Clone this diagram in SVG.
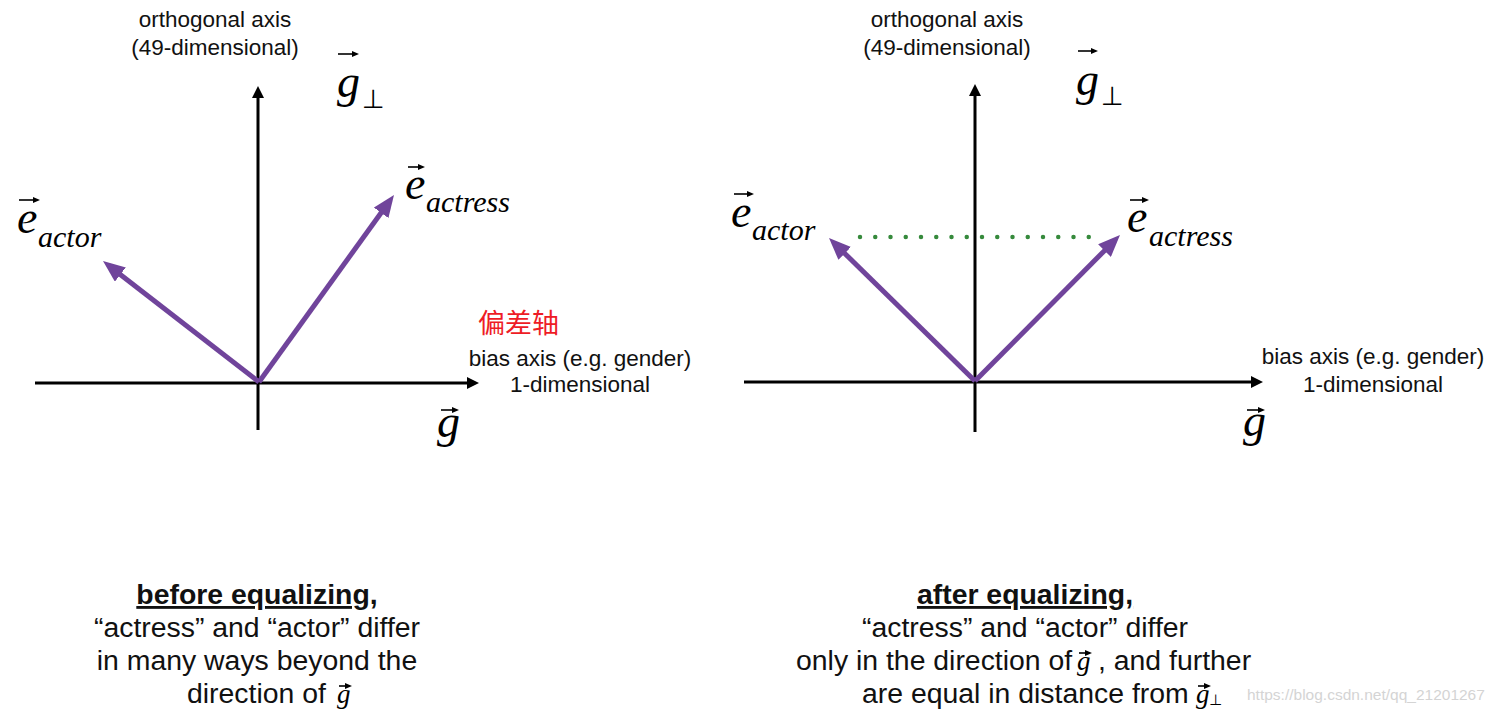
<svg xmlns="http://www.w3.org/2000/svg" width="1499" height="723" viewBox="0 0 1499 723">
<style>
.sans{font-family:"Liberation Sans",Arial,sans-serif;fill:#111}
.lbl{font-size:22.5px}
.cap{font-size:28.4px}
.mi{font-family:"Liberation Serif","Times New Roman",serif;font-style:italic;fill:#000}
.big{font-size:46px}
.sub{font-size:30px}
.perp{font-family:"DejaVu Sans",sans-serif;fill:#000}
.axis{stroke:#000;stroke-width:3;fill:none}
.vec{stroke:#70449b;stroke-width:5;fill:none}
.va{stroke:#000;stroke-width:1.6;fill:none}
</style>
<defs>
<marker id="ah" viewBox="0 0 12 12" refX="0" refY="6" markerWidth="12" markerHeight="12" markerUnits="userSpaceOnUse" orient="auto"><path d="M0,0 L12,6 L0,12 z" fill="#000"/></marker>
<marker id="ph" viewBox="0 0 22 18" refX="1" refY="9" markerWidth="22" markerHeight="18" markerUnits="userSpaceOnUse" orient="auto"><path d="M0,0 L22,9 L0,18 z" fill="#70449b"/></marker>
<marker id="sh" viewBox="0 0 7 6" refX="1" refY="3" markerWidth="7" markerHeight="6" markerUnits="userSpaceOnUse" orient="auto"><path d="M0,0 L7,3 L0,6 z" fill="#000"/></marker>
</defs>
<rect width="1499" height="723" fill="#fff"/>

<g id="connectors">
<line class="axis" x1="35" y1="383" x2="467" y2="383" marker-end="url(#ah)"/>
<line class="axis" x1="258" y1="430" x2="258" y2="98" marker-end="url(#ah)"/>
<line class="vec" x1="259" y1="382" x2="119.6" y2="273.9" marker-end="url(#ph)"/>
<line class="vec" x1="259" y1="382" x2="381.7" y2="212" marker-end="url(#ph)"/>
<line class="axis" x1="744" y1="382" x2="1251" y2="382" marker-end="url(#ah)"/>
<line class="axis" x1="975" y1="432" x2="975" y2="96" marker-end="url(#ah)"/>
<line class="vec" x1="975" y1="381" x2="844" y2="252.7" marker-end="url(#ph)"/>
<line class="vec" x1="975" y1="381" x2="1105.2" y2="249.9" marker-end="url(#ph)"/>
<line x1="860" y1="237" x2="1104" y2="237" stroke="#368a3c" stroke-width="4.5" stroke-linecap="round" stroke-dasharray="0 15.25"/>
</g>

<g id="left-orth-label">
<text class="sans lbl" x="215" y="27" text-anchor="middle">orthogonal axis</text>
<text class="sans lbl" x="215" y="55" text-anchor="middle">(49-dimensional)</text>
</g>
<g id="left-gperp">
<line class="va" x1="338" y1="54" x2="353" y2="54" marker-end="url(#sh)"/>
<text class="mi big" x="337" y="97">g</text>
<text class="perp" x="362" y="108" font-size="26">⊥</text>
</g>
<g id="left-e-actor">
<line class="va" x1="19" y1="200" x2="34" y2="200" marker-end="url(#sh)"/>
<text class="mi big" x="17" y="233">e</text>
<text class="mi sub" x="38" y="247">actor</text>
</g>
<g id="left-e-actress">
<line class="va" x1="408" y1="167" x2="419" y2="167" marker-end="url(#sh)"/>
<text class="mi big" x="405" y="199">e</text>
<text class="mi sub" x="426" y="212">actress</text>
</g>
<g id="left-bias-label">
<text x="478" y="333" font-family="'Noto Sans CJK SC',sans-serif" font-size="27" fill="#ee1c25">偏差轴</text>
<text class="sans lbl" x="580" y="366" text-anchor="middle">bias axis (e.g. gender)</text>
<text class="sans lbl" x="580" y="392" text-anchor="middle">1-dimensional</text>
</g>
<g id="left-g">
<line class="va" x1="441" y1="410" x2="453" y2="410" marker-end="url(#sh)"/>
<text class="mi big" x="437" y="437">g</text>
</g>

<g id="right-orth-label">
<text class="sans lbl" x="947" y="27" text-anchor="middle">orthogonal axis</text>
<text class="sans lbl" x="947" y="55" text-anchor="middle">(49-dimensional)</text>
</g>
<g id="right-gperp">
<line class="va" x1="1078" y1="51" x2="1092" y2="51" marker-end="url(#sh)"/>
<text class="mi big" x="1076" y="95">g</text>
<text class="perp" x="1101" y="105" font-size="26">⊥</text>
</g>
<g id="right-e-actor">
<line class="va" x1="734" y1="194" x2="748" y2="194" marker-end="url(#sh)"/>
<text class="mi big" x="731" y="227">e</text>
<text class="mi sub" x="752" y="240">actor</text>
</g>
<g id="right-e-actress">
<line class="va" x1="1130" y1="200" x2="1143" y2="200" marker-end="url(#sh)"/>
<text class="mi big" x="1127" y="232">e</text>
<text class="mi sub" x="1149" y="246">actress</text>
</g>
<g id="right-bias-label">
<text class="sans lbl" x="1373" y="364" text-anchor="middle">bias axis (e.g. gender)</text>
<text class="sans lbl" x="1373" y="392" text-anchor="middle">1-dimensional</text>
</g>
<g id="right-g">
<line class="va" x1="1247" y1="410" x2="1259" y2="410" marker-end="url(#sh)"/>
<text class="mi big" x="1243" y="436">g</text>
</g>

<g id="left-caption">
<text class="sans cap" x="257" y="604" text-anchor="middle" font-weight="bold" text-decoration="underline">before equalizing,</text>
<text class="sans cap" x="257" y="637" text-anchor="middle">“actress” and “actor” differ</text>
<text class="sans cap" x="257" y="670" text-anchor="middle">in many ways beyond the</text>
<text class="sans cap" x="187" y="703">direction of</text>
<line class="va" x1="339" y1="686" x2="346" y2="686" stroke-width="1.3" marker-end="url(#sh)"/>
<text class="mi" x="337" y="703" font-size="27">g</text>
</g>
<g id="right-caption">
<text class="sans cap" x="1025" y="604" text-anchor="middle" font-weight="bold" text-decoration="underline">after equalizing,</text>
<text class="sans cap" x="1025" y="637" text-anchor="middle">“actress” and “actor” differ</text>
<text class="sans cap" x="796" y="670">only in the direction of</text>
<line class="va" x1="1079" y1="653" x2="1086" y2="653" stroke-width="1.3" marker-end="url(#sh)"/>
<text class="mi" x="1077" y="670" font-size="27">g</text>
<text class="sans cap" x="1098" y="670">, and further</text>
<text class="sans cap" x="862" y="703">are equal in distance from</text>
<line class="va" x1="1198" y1="686" x2="1205" y2="686" stroke-width="1.3" marker-end="url(#sh)"/>
<text class="mi" x="1196" y="703" font-size="27">g</text>
<text class="perp" x="1209" y="705" font-size="15">⊥</text>
</g>
<text x="1247" y="700" font-family="'Liberation Sans',Arial,sans-serif" font-size="15.5" fill="#d4d4d4">https://blog.csdn.net/qq_21201267</text>
</svg>
